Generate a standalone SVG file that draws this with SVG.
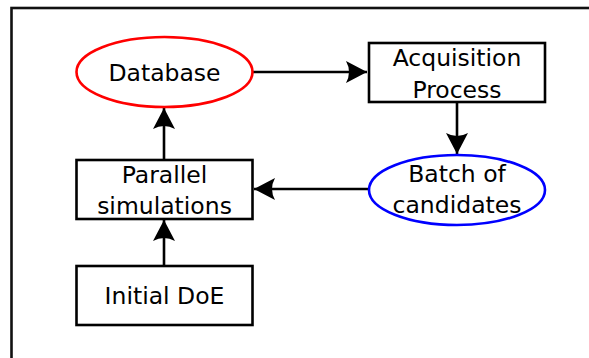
<svg xmlns="http://www.w3.org/2000/svg" width="589" height="358" viewBox="0 0 589 358">
<style>
text{font-family:"DejaVu Sans",sans-serif;font-size:23.5px;fill:#000;text-anchor:middle}
.box{fill:#fff;stroke:#000;stroke-width:2.6}
.edge{stroke:#000;stroke-width:2.6;fill:none}
</style>
<defs>
<marker id="ah" markerUnits="userSpaceOnUse" markerWidth="24" markerHeight="24" viewBox="-22 -12 24 24" refX="0" refY="0" orient="auto">
<path d="M0,0 L-21,-11 Q-15,0 -21,11 Z" fill="#000"/>
</marker>
</defs>
<rect x="11.5" y="8" width="620" height="400" fill="none" stroke="#111" stroke-width="2.6"/>
<g id="connectors">
<line class="edge" x1="253" y1="72" x2="367" y2="72" marker-end="url(#ah)"/>
<line class="edge" x1="457" y1="102" x2="457" y2="154" marker-end="url(#ah)"/>
<line class="edge" x1="369" y1="189" x2="254" y2="189" marker-end="url(#ah)"/>
<line class="edge" x1="164" y1="160" x2="164" y2="108" marker-end="url(#ah)"/>
<line class="edge" x1="164" y1="266" x2="164" y2="220" marker-end="url(#ah)"/>
</g>
<g id="database">
<ellipse cx="164.5" cy="72" rx="88" ry="35" fill="#fff" stroke="#f00" stroke-width="2.6"/>
<text x="164.5" y="81">Database</text>
</g>
<g id="acquisition">
<rect class="box" x="369" y="43" width="176" height="59"/>
<text x="457" y="66">Acquisition</text>
<text x="457" y="98">Process</text>
</g>
<g id="batch">
<ellipse cx="457" cy="190" rx="88" ry="35" fill="#fff" stroke="#00f" stroke-width="2.6"/>
<text x="457" y="182">Batch of</text>
<text x="457" y="213">candidates</text>
</g>
<g id="parallel">
<rect class="box" x="76.5" y="160" width="176" height="59"/>
<text x="164.5" y="183">Parallel</text>
<text x="164.5" y="214">simulations</text>
</g>
<g id="initial">
<rect class="box" x="76.5" y="266" width="176" height="59"/>
<text x="164.5" y="304">Initial DoE</text>
</g>
</svg>
